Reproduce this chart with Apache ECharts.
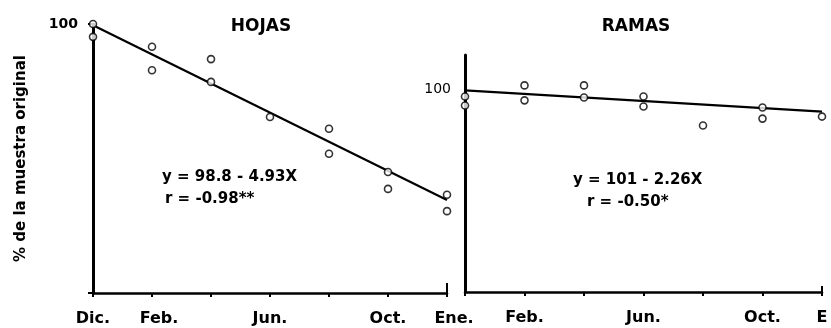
<!DOCTYPE html>
<html><head><meta charset="utf-8">
<script src="https://cdn.jsdelivr.net/npm/echarts@6/dist/echarts.min.js"></script>
<style>html,body{margin:0;padding:0;background:#fff}#c{width:831px;height:328px}</style>
</head><body><div id="c"></div>
<script>
// ---- data ----
const hojasTickLabels = ['Dic.', 'Feb.', '', 'Jun.', '', 'Oct.', 'Ene.'];
const ramasTickLabels = ['', 'Feb.', '', 'Jun.', '', 'Oct.', 'E'];
const hojasX = [0, 0, 1, 1, 2, 2, 3, 4, 4, 5, 5, 6, 6];
const hojasY = [100, 97.8, 96.1, 92.1, 94.0, 90.1, 84.1, 82.1, 77.8, 74.7, 71.8, 70.8, 68.0];
const hojasLineX = [0, 6];
const hojasLineY = [99.8, 69.9];
const ramasX = [0, 0, 1, 1, 2, 2, 3, 3, 4, 5, 5, 6];
const ramasY = [96.5, 92.1, 102, 94.6, 102, 96, 96.5, 91.6, 82.2, 91.1, 85.6, 86.6];
const ramasLineX = [0, 6];
const ramasLineY = [99.5, 89.0];
const titles = ['HOJAS', 'RAMAS'];
const eqHojas = ['y = 98.8 - 4.93X', 'r = -0.98**'];
const eqRamas = ['y = 101 - 2.26X', 'r = -0.50*'];
const yAxisName = '% de la muestra original';

const zip = (a, b) => a.map((v, i) => [v, b[i]]);
const FONT = 'DejaVu Sans';
const axisLineStyle = w => ({ show: true, lineStyle: { color: '#000', width: w } });
const labelShift = { 'Feb.': 14, 'Ene.': 16 };

const chart = echarts.init(document.getElementById('c'), null, { renderer: 'canvas' });
chart.setOption({
  animation: false,
  backgroundColor: '#fff',
  title: [
    { text: titles[0], left: 256, top: 13, textAlign: 'center',
      textStyle: { fontFamily: FONT, fontWeight: 'bold', fontSize: 17, color: '#000' } },
    { text: titles[1], left: 631, top: 13, textAlign: 'center',
      textStyle: { fontFamily: FONT, fontWeight: 'bold', fontSize: 17, color: '#000' } }
  ],
  grid: [
    { left: 93, right: 384, top: 24, bottom: 35 },
    { left: 465, right: 9, top: 55, bottom: 36 }
  ],
  xAxis: [0, 1].map(i => ({
    type: 'value', gridIndex: i, min: 0, max: 6, interval: 1,
    axisLine: axisLineStyle(2.5),
    axisTick: { show: true, length: 4, lineStyle: { color: '#000', width: 2 } },
    splitLine: { show: false },
    axisLabel: {
      margin: 18, color: '#000', fontFamily: FONT, fontWeight: 'bold', fontSize: 16,
      formatter: v => {
        const t = (i === 0 ? hojasTickLabels : ramasTickLabels)[Math.round(v)] || '';
        if (i === 0 && labelShift[t]) return '{s|' + t + '}';
        return t;
      },
      rich: { s: { padding: [0, 0, 0, 14], color: '#000', fontFamily: FONT, fontWeight: 'bold', fontSize: 16 } }
    }
  })),
  yAxis: [
    { type: 'value', gridIndex: 0, min: 54, max: 100, interval: 46,
      axisLine: axisLineStyle(3),
      axisTick: { show: true, length: 5, lineStyle: { color: '#000', width: 2 } },
      splitLine: { show: false },
      axisLabel: { margin: 15, color: '#000', fontFamily: FONT, fontWeight: 'bold', fontSize: 14,
        formatter: v => v === 100 ? '100' : '' },
      name: yAxisName, nameLocation: 'middle', nameRotate: 90, nameGap: 64,
      nameTextStyle: { color: '#000', fontFamily: FONT, fontWeight: 'bold', fontSize: 15 } },
    { type: 'value', gridIndex: 1, min: 0, max: 117, interval: 100,
      axisLine: axisLineStyle(3),
      axisTick: { show: false },
      splitLine: { show: false },
      axisLabel: { margin: 14, color: '#000', fontFamily: FONT, fontSize: 14,
        formatter: v => v === 100 ? '100' : '' } }
  ],
  series: [
    { type: 'line', xAxisIndex: 0, yAxisIndex: 0, data: zip(hojasLineX, hojasLineY),
      symbol: 'none', lineStyle: { color: '#000', width: 2.2 }, z: 2 },
    { type: 'scatter', xAxisIndex: 0, yAxisIndex: 0, data: zip(hojasX, hojasY),
      symbol: 'circle', symbolSize: 7, itemStyle: { color: '#fff', borderColor: '#000', borderWidth: 1.6 }, z: 3 },
    { type: 'line', xAxisIndex: 1, yAxisIndex: 1, data: zip(ramasLineX, ramasLineY),
      symbol: 'none', lineStyle: { color: '#000', width: 2.2 }, z: 2 },
    { type: 'scatter', xAxisIndex: 1, yAxisIndex: 1, data: zip(ramasX, ramasY),
      symbol: 'circle', symbolSize: 7, itemStyle: { color: '#fff', borderColor: '#000', borderWidth: 1.6 }, z: 3 }
  ],
  graphic: [
    { type: 'text', x: 162, y: 177, style: { text: eqHojas[0], font: 'bold 15px "DejaVu Sans"', fill: '#000', verticalAlign: 'middle' } },
    { type: 'text', x: 165, y: 199, style: { text: eqHojas[1], font: 'bold 15px "DejaVu Sans"', fill: '#000', verticalAlign: 'middle' } },
    { type: 'text', x: 573, y: 180, style: { text: eqRamas[0], font: 'bold 15px "DejaVu Sans"', fill: '#000', verticalAlign: 'middle' } },
    { type: 'text', x: 587, y: 202, style: { text: eqRamas[1], font: 'bold 15px "DejaVu Sans"', fill: '#000', verticalAlign: 'middle' } },
    { type: 'line', shape: { x1: 447, y1: 283, x2: 447, y2: 293 }, style: { stroke: '#000', lineWidth: 2 } },
    { type: 'line', shape: { x1: 822, y1: 286, x2: 822, y2: 292 }, style: { stroke: '#000', lineWidth: 2 } }
  ]
});
</script></body></html>
